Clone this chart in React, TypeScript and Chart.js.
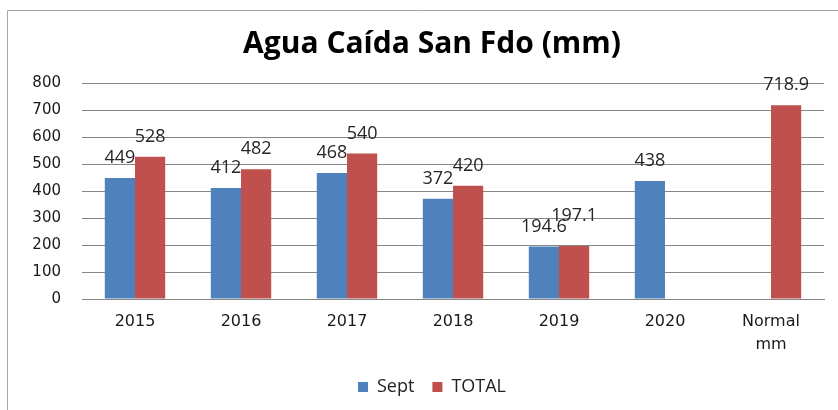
import React, { useEffect, useRef } from "react";
import { Chart, registerables } from "chart.js";

Chart.register(...registerables);

const categories: (string | string[])[] = ["2015", "2016", "2017", "2018", "2019", "2020", ["Normal", "mm"]];
const septValues: (number | null)[] = [449, 412, 468, 372, 194.6, 438, null];
const totalValues: (number | null)[] = [528, 482, 540, 420, 197.1, null, 718.9];
const yTicks: number[] = [0, 100, 200, 300, 400, 500, 600, 700, 800];

const BLUE = "#4F81BD";
const RED = "#C0504D";

const frame = {
  id: "frame",
  beforeDraw(chart: any) {
    const ctx = chart.ctx;
    ctx.save();
    ctx.fillStyle = "#ffffff";
    ctx.fillRect(0, 0, chart.width, chart.height);
    ctx.strokeStyle = "#a6a6a6";
    ctx.lineWidth = 1;
    ctx.beginPath();
    ctx.moveTo(7.5, chart.height);
    ctx.lineTo(7.5, 10.5);
    ctx.lineTo(chart.width, 10.5);
    ctx.stroke();
    ctx.restore();
  },
};

// centre title and legend over the plot frame rather than the whole canvas
const recenter = {
  id: "recenter",
  afterLayout(chart: any) {
    if (chart.legend) chart.legend.left += 40;
    if (chart.titleBlock) chart.titleBlock.left += 40;
  },
};

const valueLabels = {
  id: "valueLabels",
  afterDatasetsDraw(chart: any) {
    const ctx = chart.ctx;
    ctx.save();
    ctx.font = "18px 'Open Sans', sans-serif";
    ctx.fillStyle = "#262626";
    ctx.textAlign = "center";
    ctx.textBaseline = "middle";
    const n = chart.data.labels.length;
    for (let i = 0; i < n; i++) {
      const items: { x: number; y: number; t: string; w: number }[] = [];
      chart.data.datasets.forEach((ds: any, di: number) => {
        const v = ds.data[i];
        if (v === null || v === undefined) return;
        const el = chart.getDatasetMeta(di).data[i];
        const t = String(v);
        items.push({ x: el.x, y: el.y - 20, t, w: ctx.measureText(t).width });
      });
      if (items.length === 2) {
        const gap = items[1].x - items[0].x;
        const need = (items[0].w + items[1].w) / 2;
        if (gap < need && Math.abs(items[1].y - items[0].y) < 12) {
          items[1].y = Math.min(items[1].y, items[0].y) - 10;
        }
      }
      items.forEach((it) => ctx.fillText(it.t, it.x, it.y));
    }
    ctx.restore();
  },
};

export default function App() {
  const ref = useRef<HTMLCanvasElement | null>(null);
  useEffect(() => {
    document.body.style.margin = "0";
    const chart = new Chart(ref.current as HTMLCanvasElement, {
      type: "bar",
      data: {
        labels: categories,
        datasets: [
          { label: "Sept", data: septValues, backgroundColor: BLUE, categoryPercentage: 0.57, barPercentage: 1 },
          { label: "TOTAL", data: totalValues, backgroundColor: RED, categoryPercentage: 0.57, barPercentage: 1 },
        ],
      },
      options: {
        responsive: false,
        animation: false,
        layout: { padding: { left: 0, right: 14, top: 26, bottom: 4 } },
        plugins: {
          title: {
            display: true,
            text: "Agua Caída San Fdo (mm)",
            font: { family: "'Open Sans', sans-serif", size: 30, weight: "bold" },
            color: "#000",
            padding: { top: 0, bottom: 21.5 },
          },
          legend: {
            position: "bottom",
            labels: {
              boxWidth: 10,
              boxHeight: 10,
              font: { family: "'Open Sans', sans-serif", size: 18 },
              color: "#222",
              padding: 18,
            },
          },
          tooltip: { enabled: false },
        },
        scales: {
          x: {
            grid: { display: false, drawTicks: false },
            border: { display: true, color: "#868686" },
            afterFit(scale: any) {
              scale.height = 61;
            },
            ticks: {
              font: { family: "'DejaVu Sans', sans-serif", size: 16, lineHeight: 1.4 },
              color: "#1a1a1a",
              padding: 12,
              maxRotation: 0,
              autoSkip: false,
            },
          },
          y: {
            min: 0,
            max: 800,
            afterBuildTicks(scale: any) {
              scale.ticks = yTicks.map((v) => ({ value: v }));
            },
            afterFit(scale: any) {
              scale.width = 82;
            },
            grid: { color: "#868686", drawTicks: false },
            border: { display: false },
            ticks: {
              font: { family: "'DejaVu Sans', sans-serif", size: 15 },
              color: "#1a1a1a",
              padding: 21,
            },
          },
        },
      },
      plugins: [frame, recenter, valueLabels],
    });
    return () => chart.destroy();
  }, []);
  return <canvas ref={ref} width={838} height={410} />;
}
